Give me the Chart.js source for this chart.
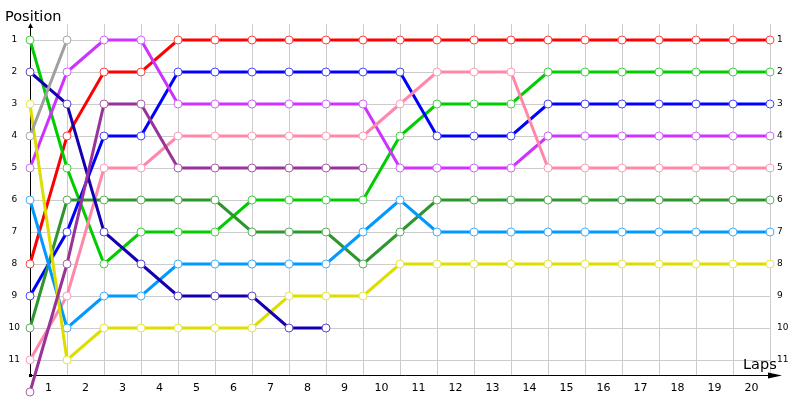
<!DOCTYPE html>
<html>
<head>
<meta charset="utf-8">
<script src="https://cdn.jsdelivr.net/npm/chart.js@4.4.1/dist/chart.umd.min.js"></script>
<style>
    html, body { margin: 0; padding: 0; background: #fff; }
    #chart { display: block; }
</style>
</head>
<body>
<canvas id="chart" width="800" height="400"></canvas>
<script>
// labels under the x axis, one per lap (drawn between the grid lines)
const lapLabels = ['1', '2', '3', '4', '5', '6', '7', '8', '9', '10',
    '11', '12', '13', '14', '15', '16', '17', '18', '19', '20'];
const positionTicks = [1, 2, 3, 4, 5, 6, 7, 8, 9, 10, 11];

// position at the start (index 0) and after each lap
const redCar       = [8, 4, 2, 2, 1, 1, 1, 1, 1, 1, 1, 1, 1, 1, 1, 1, 1, 1, 1, 1, 1];
const limeCar      = [1, 5, 8, 7, 7, 7, 6, 6, 6, 6, 4, 3, 3, 3, 2, 2, 2, 2, 2, 2, 2];
const blueCar      = [9, 7, 4, 4, 2, 2, 2, 2, 2, 2, 2, 4, 4, 4, 3, 3, 3, 3, 3, 3, 3];
const magentaCar   = [5, 2, 1, 1, 3, 3, 3, 3, 3, 3, 5, 5, 5, 5, 4, 4, 4, 4, 4, 4, 4];
const pinkCar      = [11, 9, 5, 5, 4, 4, 4, 4, 4, 4, 3, 2, 2, 2, 5, 5, 5, 5, 5, 5, 5];
const darkGreenCar = [10, 6, 6, 6, 6, 6, 7, 7, 7, 8, 7, 6, 6, 6, 6, 6, 6, 6, 6, 6, 6];
const skyBlueCar   = [6, 10, 9, 9, 8, 8, 8, 8, 8, 7, 6, 7, 7, 7, 7, 7, 7, 7, 7, 7, 7];
const yellowCar    = [3, 11, 10, 10, 10, 10, 10, 9, 9, 9, 8, 8, 8, 8, 8, 8, 8, 8, 8, 8, 8];
const navyCar      = [2, 3, 7, 8, 9, 9, 9, 10, 10];
const purpleCar    = [12, 8, 3, 3, 5, 5, 5, 5, 5, 5];
const grayCar      = [4, 1];

const series = [
    { data: grayCar,      line: '#a0a0a0', point: '#a8a8a8' },
    { data: purpleCar,    line: '#993399', point: '#a860a8' },
    { data: navyCar,      line: '#1400b0', point: '#5a48d0' },
    { data: yellowCar,    line: '#dddd00', point: '#e6e640' },
    { data: skyBlueCar,   line: '#0099ff', point: '#40b0ff' },
    { data: darkGreenCar, line: '#2e962e', point: '#5cb05c' },
    { data: pinkCar,      line: '#ff88aa', point: '#ff9cb8' },
    { data: magentaCar,   line: '#cc33ff', point: '#d466ff' },
    { data: blueCar,      line: '#0000ff', point: '#4848ff' },
    { data: limeCar,      line: '#00cc00', point: '#44d044' },
    { data: redCar,       line: '#ff0000', point: '#ff4444' },
];

const datasets = series.map((s) => ({
    data: s.data.map((pos, lap) => ({ x: lap, y: pos })),
    borderColor: s.line,
    borderWidth: 3,
    pointRadius: 4,
    // hover is off (no events); the bigger hover radius only widens the
    // area check so the below-the-axis start point still gets drawn
    pointHoverRadius: 17,
    pointBorderWidth: 1,
    pointBorderColor: s.point,
    pointBackgroundColor: '#ffffff',
    tension: 0,
    fill: false,
    clip: false,
}));

const axisDecor = {
    id: 'axisDecor',
    beforeDatasetsDraw(chart) {
        const { ctx, chartArea: a } = chart;
        const x0 = a.left + 0.5;
        const y0 = a.bottom - 0.5;
        ctx.save();
        ctx.strokeStyle = '#000';
        ctx.fillStyle = '#000';
        ctx.lineWidth = 1;
        ctx.beginPath();
        ctx.moveTo(x0, a.top + 1);
        ctx.lineTo(x0, y0);
        ctx.lineTo(a.right + 10, y0);
        ctx.stroke();
        // small arrow heads
        ctx.beginPath();
        ctx.moveTo(x0, a.top - 1);
        ctx.lineTo(x0 - 2.5, a.top + 4);
        ctx.lineTo(x0 + 2.5, a.top + 4);
        ctx.closePath();
        ctx.fill();
        ctx.beginPath();
        ctx.moveTo(a.right + 12, y0);
        ctx.lineTo(a.right - 2, y0 - 3);
        ctx.lineTo(a.right - 2, y0 + 3);
        ctx.closePath();
        ctx.fill();
        ctx.fillRect(a.left - 1, a.bottom - 2, 3, 3);

        ctx.font = '14.5px "DejaVu Sans"';
        ctx.textBaseline = 'alphabetic';
        ctx.textAlign = 'left';
        ctx.fillText('Position', 5, 21);
        ctx.fillText('Laps', 743, 369);
        ctx.restore();
    }
};

new Chart(document.getElementById('chart').getContext('2d'), {
    type: 'line',
    data: { datasets: datasets },
    options: {
        responsive: false,
        animation: false,
        events: [],
        layout: { padding: { top: 24, left: 0, right: 0, bottom: 0 } },
        plugins: {
            legend: { display: false },
            tooltip: { enabled: false },
            title: { display: false },
        },
        scales: {
            x: {
                type: 'linear',
                min: 0,
                max: 20,
                afterBuildTicks(scale) {
                    scale.ticks = lapLabels.concat(['']).map((_, i) => ({ value: i }));
                },
                afterFit(scale) { scale.height = 24; },
                grid: { color: '#cccccc', drawTicks: false },
                border: { display: false },
                ticks: {
                    autoSkip: false,
                    maxRotation: 0,
                    padding: 6,
                    labelOffset: 18.5,
                    color: '#000',
                    font: { family: 'DejaVu Sans', size: 11 },
                    callback: (value) => lapLabels[value] || '',
                },
            },
            y: {
                type: 'linear',
                position: 'left',
                reverse: true,
                min: 0.5,
                max: 11.5,
                afterBuildTicks(scale) {
                    scale.ticks = positionTicks.map((v) => ({ value: v }));
                },
                afterFit(scale) { scale.width = 30; },
                grid: { color: '#cccccc', drawTicks: false },
                border: { display: false },
                ticks: {
                    padding: 10,
                    crossAlign: 'center',
                    color: '#000',
                    font: { family: 'DejaVu Sans', size: 9 },
                },
            },
            y2: {
                type: 'linear',
                position: 'right',
                reverse: true,
                min: 0.5,
                max: 11.5,
                afterBuildTicks(scale) {
                    scale.ticks = positionTicks.map((v) => ({ value: v }));
                },
                afterFit(scale) { scale.width = 30; },
                grid: { display: false, drawTicks: false },
                border: { display: false },
                ticks: {
                    padding: 7,
                    color: '#000',
                    font: { family: 'DejaVu Sans', size: 9 },
                },
            },
        },
    },
    plugins: [axisDecor],
});
</script>
</body>
</html>
